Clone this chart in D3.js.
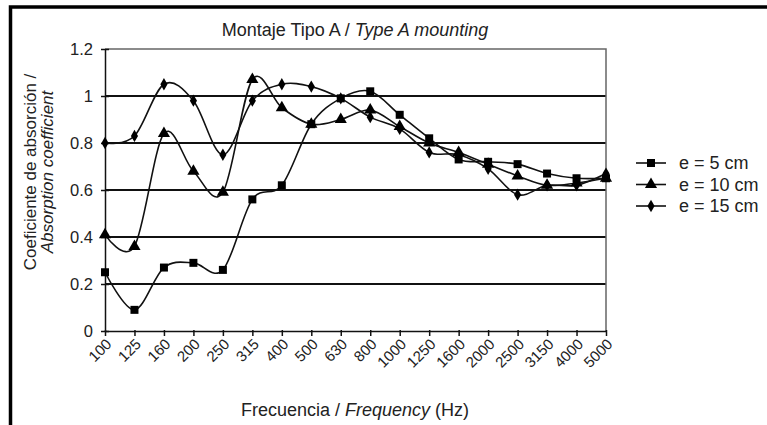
<!DOCTYPE html>
<html>
<head>
<meta charset="utf-8">
<script src="https://cdn.jsdelivr.net/npm/d3@7/dist/d3.min.js"></script>
<style>
  html, body { margin: 0; padding: 0; background: #fff; }
  svg { display: block; font-family: "Liberation Sans", Arial, sans-serif; }
</style>
</head>
<body>
<svg id="chart" width="767" height="425"></svg>
<script>
// Third-octave band centre frequencies (Hz)
const frequencies = ["100","125","160","200","250","315","400","500","630","800",
  "1000","1250","1600","2000","2500","3150","4000","5000"];

// Absorption coefficient per thickness
const e5cm  = [0.25,0.09,0.27,0.29,0.26,0.56,0.62,0.88,0.99,1.02,0.92,0.82,0.73,0.72,0.71,0.67,0.65,0.65];
const e10cm = [0.41,0.36,0.84,0.68,0.59,1.07,0.95,0.88,0.90,0.94,0.87,0.80,0.76,0.71,0.66,0.62,0.63,0.65];
const e15cm = [0.80,0.83,1.05,0.98,0.75,0.98,1.05,1.04,0.99,0.91,0.86,0.76,0.75,0.69,0.58,0.62,0.62,0.67];

const yTicks = [0, 0.2, 0.4, 0.6, 0.8, 1, 1.2];

const seriesNames = ["e = 5 cm", "e = 10 cm", "e = 15 cm"];
const seriesSymbols = [d3.symbolSquare, d3.symbolTriangle, d3.symbolDiamond];
const seriesSymbolSizes = [64, 64, 44];

const series = [e5cm, e10cm, e15cm].map((values, i) => ({
  name: seriesNames[i], symbol: seriesSymbols[i], size: seriesSymbolSizes[i], values
}));

const svg = d3.select("#chart");
const W = 767, H = 425;

// outer frame
svg.append("path")
  .attr("d", `M10.5,${H} L10.5,7 L${W},7`)
  .attr("fill", "none").attr("stroke", "#000").attr("stroke-width", 3.5);

const plot = { left: 105, right: 606, top: 49, bottom: 331 };

const x = d3.scalePoint().domain(frequencies).range([plot.left, plot.right]);
const y = d3.scaleLinear().domain([0, 1.2]).range([plot.bottom, plot.top]);

// horizontal gridlines
svg.append("g").selectAll("line")
  .data(yTicks.filter(t => t > 0 && t < 1.2))
  .join("line")
  .attr("x1", plot.left).attr("x2", plot.right)
  .attr("y1", d => y(d)).attr("y2", d => y(d))
  .attr("stroke", "#111").attr("stroke-width", 1.8);

// plot-area border (top and right)
svg.append("path")
  .attr("d", `M${plot.left},${y(1.2)} L${plot.right},${y(1.2)} L${plot.right},${plot.bottom}`)
  .attr("fill", "none").attr("stroke", "#666").attr("stroke-width", 1.5);

// y axis
const yAxis = svg.append("g")
  .attr("transform", `translate(${plot.left},0)`)
  .call(d3.axisLeft(y).tickValues(yTicks).tickFormat(d => d3.format("")(+d.toFixed(1))).tickSize(4).tickSizeOuter(0));
yAxis.select(".domain").attr("stroke", "#111").attr("stroke-width", 1.5);
yAxis.selectAll(".tick line").attr("x2", -4).attr("x1", 4).attr("stroke", "#111").attr("stroke-width", 1.5);
yAxis.selectAll(".tick text")
  .attr("x", -12).attr("dy", "0.36em")
  .attr("font-size", 16.5).attr("fill", "#222")
  .attr("font-family", "'Liberation Sans', Arial, sans-serif");

// x axis
const xAxis = svg.append("g")
  .attr("transform", `translate(0,${plot.bottom})`)
  .call(d3.axisBottom(x).tickSize(5).tickSizeOuter(0));
xAxis.select(".domain").attr("stroke", "#111").attr("stroke-width", 1.5);
xAxis.selectAll(".tick line").attr("y1", -1).attr("y2", 5).attr("stroke", "#111").attr("stroke-width", 1.5);
xAxis.selectAll(".tick text")
  .attr("font-size", 15).attr("fill", "#222")
  .attr("font-family", "'Liberation Sans', Arial, sans-serif")
  .attr("text-anchor", "end")
  .attr("dy", 0).attr("y", 0)
  .attr("transform", "translate(7,14) rotate(-45)");

// smoothed series lines
const line = d3.line()
  .x((d, i) => x(frequencies[i]))
  .y(d => y(d))
  .curve(d3.curveCatmullRom.alpha(0));

const gSeries = svg.append("g");
series.forEach(s => {
  gSeries.append("path")
    .attr("d", line(s.values))
    .attr("fill", "none").attr("stroke", "#111").attr("stroke-width", 1.6);
});
series.forEach(s => {
  gSeries.append("g").selectAll("path")
    .data(s.values)
    .join("path")
    .attr("transform", (d, i) => `translate(${x(frequencies[i])},${y(d)})`)
    .attr("d", d3.symbol(s.symbol, s.size))
    .attr("fill", "#000");
});

// title
const title = svg.append("text")
  .attr("x", 355).attr("y", 36).attr("text-anchor", "middle")
  .attr("font-size", 18).attr("fill", "#222");
title.append("tspan").text("Montaje Tipo A / ");
title.append("tspan").attr("font-style", "italic").text("Type A mounting");

// x axis title
const xt = svg.append("text")
  .attr("x", 355).attr("y", 416).attr("text-anchor", "middle")
  .attr("font-size", 18).attr("fill", "#222");
xt.append("tspan").text("Frecuencia / ");
xt.append("tspan").attr("font-style", "italic").text("Frequency");
xt.append("tspan").text(" (Hz)");

// y axis title (two lines)
const yt = svg.append("g").attr("transform", "translate(0,172) rotate(-90)");
yt.append("text").attr("x", 0).attr("y", 36).attr("text-anchor", "middle")
  .attr("font-size", 17).attr("fill", "#222").text("Coeficiente de absorción /");
yt.append("text").attr("x", 0).attr("y", 53).attr("text-anchor", "middle")
  .attr("font-size", 17).attr("fill", "#222").attr("font-style", "italic").text("Absorption coefficient");

// legend
const legend = svg.append("g").attr("transform", "translate(636,163)");
series.forEach((s, i) => {
  const row = legend.append("g").attr("transform", `translate(0,${i * 21.5})`);
  row.append("line").attr("x1", 0).attr("x2", 30).attr("y1", 0).attr("y2", 0)
    .attr("stroke", "#111").attr("stroke-width", 1.6);
  row.append("path").attr("transform", "translate(15,0)")
    .attr("d", d3.symbol(s.symbol, s.size)).attr("fill", "#000");
  row.append("text").attr("x", 43).attr("y", 0).attr("dy", "0.36em")
    .attr("font-size", 18).attr("fill", "#222").text(s.name);
});
</script>
</body>
</html>
